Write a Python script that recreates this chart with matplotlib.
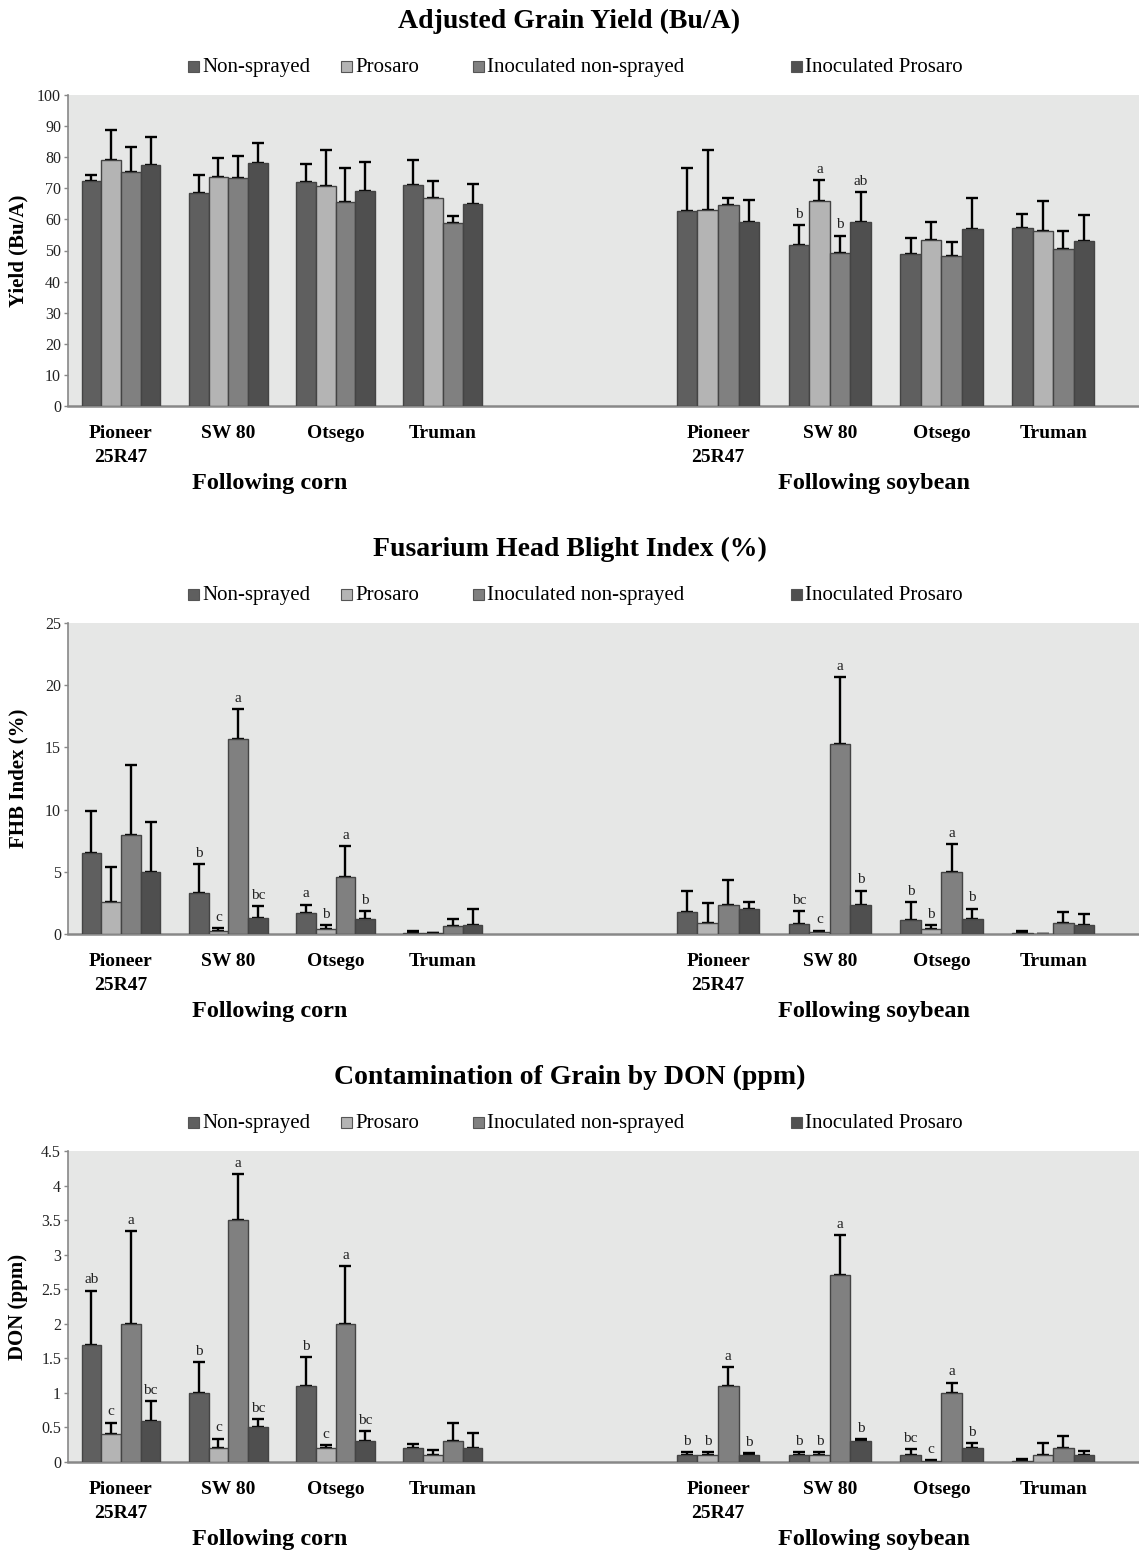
import numpy as np
import matplotlib
matplotlib.use('Agg')
import matplotlib.pyplot as plt
from matplotlib.patches import Rectangle
from matplotlib.ticker import MultipleLocator, FuncFormatter

plt.rcParams['font.family'] = ['Liberation Serif', 'DejaVu Serif']

# categories
cultivars = ['Pioneer\n25R47', 'SW 80', 'Otsego', 'Truman']
rotations = ['Following corn', 'Following soybean']
treatments = ['Non-sprayed', 'Prosaro', 'Inoculated non-sprayed', 'Inoculated Prosaro']
colors = ['#5f5f5f', '#b4b4b4', '#808080', '#4f4f4f']

# values: 4 cultivars after corn, then 4 after soybean
yield_ns = [72.2, 68.4, 72.0, 71.1, 62.7, 51.9, 48.9, 57.1]
yield_pro = [79.2, 73.7, 70.7, 66.8, 62.9, 66.0, 53.3, 56.3]
yield_ins = [75.3, 73.2, 65.5, 58.8, 64.5, 49.3, 48.2, 50.5]
yield_ip = [77.4, 78.0, 69.0, 64.8, 59.2, 59.2, 56.8, 53.2]
yield_ns_err = [2.1, 5.8, 5.7, 8.1, 13.8, 6.4, 5.0, 4.6]
yield_pro_err = [9.5, 6.1, 11.7, 5.5, 19.5, 6.6, 6.0, 9.6]
yield_ins_err = [8.0, 7.2, 11.1, 2.3, 2.5, 5.5, 4.5, 5.7]
yield_ip_err = [9.2, 6.5, 9.6, 6.6, 6.9, 9.6, 10.2, 8.3]
yield_letters = [['', '', '', '', '', 'b', '', ''],
                 ['', '', '', '', '', 'a', '', ''],
                 ['', '', '', '', '', 'b', '', ''],
                 ['', '', '', '', '', 'ab', '', '']]

fhb_ns = [6.49, 3.3, 1.69, 0.1, 1.8, 0.8, 1.1, 0.1]
fhb_pro = [2.55, 0.21, 0.38, 0.05, 0.86, 0.13, 0.38, 0.02]
fhb_ins = [7.97, 15.69, 4.59, 0.62, 2.31, 15.29, 4.99, 0.89]
fhb_ip = [4.99, 1.31, 1.21, 0.72, 2.01, 2.31, 1.21, 0.72]
fhb_ns_err = [3.41, 2.33, 0.67, 0.17, 1.69, 1.05, 1.45, 0.14]
fhb_pro_err = [2.84, 0.27, 0.34, 0.0, 1.63, 0.14, 0.32, 0.0]
fhb_ins_err = [5.58, 2.39, 2.49, 0.61, 2.06, 5.39, 2.25, 0.91]
fhb_ip_err = [4.05, 0.94, 0.64, 1.26, 0.59, 1.18, 0.83, 0.86]
fhb_letters = [['', 'b', 'a', '', '', 'bc', 'b', ''],
               ['', 'c', 'b', '', '', 'c', 'b', ''],
               ['', 'a', 'a', '', '', 'a', 'a', ''],
               ['', 'bc', 'b', '', '', 'b', 'b', '']]

don_ns = [1.70, 1.00, 1.10, 0.20, 0.10, 0.10, 0.10, 0.01]
don_pro = [0.40, 0.20, 0.20, 0.10, 0.10, 0.10, 0.02, 0.10]
don_ins = [2.00, 3.50, 2.00, 0.30, 1.10, 2.70, 1.00, 0.20]
don_ip = [0.60, 0.50, 0.30, 0.20, 0.10, 0.30, 0.20, 0.10]
don_ns_err = [0.78, 0.44, 0.42, 0.06, 0.04, 0.04, 0.09, 0.03]
don_pro_err = [0.17, 0.14, 0.05, 0.07, 0.04, 0.04, 0.01, 0.18]
don_ins_err = [1.34, 0.67, 0.84, 0.26, 0.27, 0.58, 0.15, 0.18]
don_ip_err = [0.28, 0.12, 0.15, 0.22, 0.03, 0.03, 0.07, 0.06]
don_letters = [['ab', 'b', 'b', '', 'b', 'b', 'bc', ''],
               ['c', 'c', 'c', '', 'b', 'b', 'c', ''],
               ['a', 'a', 'a', '', 'a', 'a', 'a', ''],
               ['bc', 'bc', 'bc', '', 'b', 'b', 'b', '']]

panels = [
    ('Adjusted Grain Yield (Bu/A)', 'Yield (Bu/A)', 100, 10,
     [yield_ns, yield_pro, yield_ins, yield_ip],
     [yield_ns_err, yield_pro_err, yield_ins_err, yield_ip_err], yield_letters),
    ('Fusarium Head Blight Index (%)', 'FHB Index (%)', 25, 5,
     [fhb_ns, fhb_pro, fhb_ins, fhb_ip],
     [fhb_ns_err, fhb_pro_err, fhb_ins_err, fhb_ip_err], fhb_letters),
    ('Contamination of Grain by DON (ppm)', 'DON (ppm)', 4.5, 0.5,
     [don_ns, don_pro, don_ins, don_ip],
     [don_ns_err, don_pro_err, don_ins_err, don_ip_err], don_letters),
]

# layout (pixels of a 1139x1552 canvas)
W, H = 1139, 1552
panel_tops = [95, 623, 1151]
plot_h = 311
ax_left = 68
legend_sq_x = [188, 341, 473, 791]

group_x = [np.arange(4) * 1.0, 5.564 + 1.041 * np.arange(4)]
group_scale = [1.0, 1.041]
bw = 0.184

fig = plt.figure(figsize=(W / 100, H / 100), dpi=100)

for (title, ylab, ymax, ystep, means, errs, letters), top in zip(panels, panel_tops):
    ax = fig.add_axes([ax_left / W, 1 - (top + plot_h) / H, 1 - ax_left / W, plot_h / H])
    ax.set_facecolor('#e6e7e6')

    for j in range(4):
        for g in range(2):
            xs = group_x[g] + (j - 1.5) * bw * group_scale[g]
            m = np.array(means[j][g * 4:(g + 1) * 4])
            e = np.array(errs[j][g * 4:(g + 1) * 4])
            ax.errorbar(xs, m, yerr=[np.zeros(4), e], fmt='none', ecolor='black',
                        elinewidth=1.7, capsize=4, capthick=1.7, zorder=2)
            ax.bar(xs, m, width=bw * group_scale[g], color=colors[j],
                   edgecolor='#444444', linewidth=1.0, zorder=3)
            for k in range(4):
                lab = letters[j][g * 4 + k]
                if lab:
                    ax.annotate(lab, (xs[k], m[k] + e[k]), xytext=(0, 3),
                                textcoords='offset points', ha='center', va='bottom',
                                fontsize=11, color='#222222', zorder=4)

    ax.set_xlim(-0.494, 9.487)
    ax.set_ylim(0, ymax)
    ax.yaxis.set_major_locator(MultipleLocator(ystep))
    ax.yaxis.set_major_formatter(FuncFormatter(lambda v, p: '%g' % round(v, 2)))
    ax.tick_params(axis='y', direction='out', length=3, width=1, color='#888888',
                   labelsize=11.5, pad=2, labelcolor='#222222')
    xt = np.concatenate(group_x)
    ax.set_xticks(xt)
    ax.set_xticklabels(cultivars * 2, fontsize=14, fontweight='bold', linespacing=1.5)
    ax.tick_params(axis='x', length=0, pad=14)
    for s in ['top', 'right']:
        ax.spines[s].set_visible(False)
    ax.spines['left'].set_color('#888888')
    ax.spines['bottom'].set_color('#888888')
    ax.spines['left'].set_linewidth(1.2)
    ax.spines['bottom'].set_linewidth(1.8)

    ax.set_ylabel(ylab, fontsize=15, fontweight='bold')
    ax.yaxis.set_label_coords(-(ax_left - 28) / (W - ax_left), 0.5)

    for g in range(2):
        ax.annotate(rotations[g], (group_x[g].mean() - 0.11, 0),
                    xycoords=('data', 'axes fraction'), xytext=(0, -78 * 0.72),
                    textcoords='offset points', ha='center', va='center',
                    fontsize=17.5, fontweight='bold')

    fig.text(0.5, 1 - (top - 74) / H, title, ha='center', va='center',
             fontsize=20, fontweight='bold')

    ly = top - 29
    for j, name in enumerate(treatments):
        sq = 11
        fig.patches.append(Rectangle((legend_sq_x[j] / W, 1 - (ly + sq / 2) / H), sq / W, sq / H,
                                     transform=fig.transFigure, facecolor=colors[j],
                                     edgecolor='#555555', linewidth=0.8))
        fig.text((legend_sq_x[j] + 14) / W, 1 - (ly + 6) / H, name, ha='left', va='baseline',
                 fontsize=15)

fig.savefig('out.png', dpi=100)
